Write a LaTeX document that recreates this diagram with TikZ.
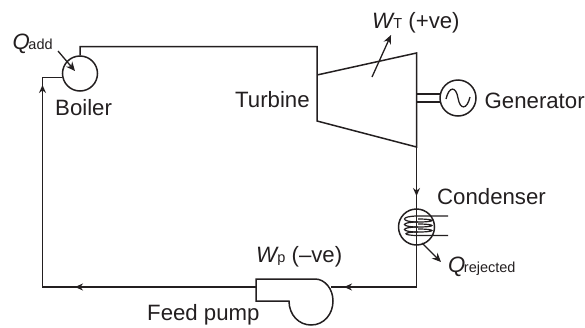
\documentclass[tikz,border=0pt]{standalone}
\usepackage{fontspec}
\setmainfont{Liberation Sans}
\usetikzlibrary{arrows.meta}
\definecolor{ink}{HTML}{231F20}
\tikzset{
  pipe/.style={draw=ink,line width=1.5pt,line join=miter},
  flow/.style={draw=ink,line width=1.5pt,-{Stealth[length=8pt,width=7pt]}},
  work/.style={draw=ink,line width=1.3pt,-{Stealth[length=9pt,width=8pt]}},
  unit/.style={circle,draw=ink,line width=1.5pt,inner sep=0pt},
  lab/.style={anchor=base west,inner sep=0pt,text=ink,font=\fontsize{22.2}{24}\selectfont},
}
\newcommand{\smallsub}[1]{\kern-1.5pt{\fontsize{14.5}{16}\selectfont #1}}
\begin{document}
\begin{tikzpicture}[x=1pt,y=-1pt]
\useasboundingbox (0,0) rectangle (585,327);
% units
\node[unit,minimum size=35pt] (boiler) at (80,73.5) {};
\node[unit,minimum size=36pt] (gen) at (458,98) {};
\node[unit,minimum size=36pt] (cond) at (416.5,227) {};
% reference points
\coordinate (tiTop) at (317,46.5);
\coordinate (tiLow) at (317,121);
\coordinate (ti) at (317,75);
\coordinate (teTop) at (416.5,53);
\coordinate (teLow) at (416.5,147);
\coordinate (boilTop) at (80,46.5);
\coordinate (boilIn) at (42.5,77.5);
\coordinate (leftLow) at (42.5,287);
\coordinate (condLow) at (416.5,287);
\coordinate (pumpIn) at (331,287);
\coordinate (pumpOut) at (256,287);
% turbine
\draw[pipe] (boiler.north) -- (boilTop) -- (tiTop) -- (tiLow) -- (teLow) -- (teTop) -- (ti);
% turbine to condenser
\draw[pipe] (teLow) -- (cond.north);
\coordinate (a1) at (416.5,196);
\draw[flow] (teLow) -- (a1);
% condenser to pump
\draw[pipe] (cond.south) -- (condLow) -- (pumpIn);
\coordinate (a2) at (344,287);
\draw[flow] (condLow) -- (a2);
% pump
\coordinate (p1) at (256,279);
\coordinate (p2) at (315,279);
\coordinate (p3) at (256,301);
\coordinate (p4) at (289,301);
\draw[pipe] (p2) -- (p1) -- (p3) -- (p4)
  .. controls (289,315) and (299,325) .. (311,325)
  .. controls (324,325) and (333,314) .. (333,301)
  .. controls (333,289) and (325,279) .. (p2);
% pump to boiler
\draw[pipe] (pumpOut) -- (leftLow) -- (boilIn) -- (boiler.west |- boilIn);
\coordinate (a3) at (75,287);
\coordinate (a4) at (42.5,85);
\draw[flow] (pumpOut) -- (a3);
\draw[flow] (leftLow) -- (a4);
% generator shaft and sine
\coordinate (s1) at (416,94);
\coordinate (s2) at (441,94);
\coordinate (s3) at (416,102);
\coordinate (s4) at (441,102);
\draw[pipe,line width=1.3pt] (s1) -- (s2) (s3) -- (s4);
\draw[pipe,line width=1.3pt] (446,99) .. controls (449,86) and (456,86) .. (458,98)
  .. controls (460,110) and (467,110) .. (470,97);
% condenser coil
\draw[pipe,line width=1pt] (cond.north) -- (cond.south);
\coordinate (c1) at (448,216);
\coordinate (c2) at (448,235.5);
\draw[pipe,line width=1.2pt] (c1) -- (418,216)
 .. controls (400,216) and (400,222) .. (418,222)
 .. controls (437,222) and (436,219) .. (418,219);
\draw[pipe,line width=1.2pt] (418,222)
 .. controls (400,222) and (400,227) .. (418,227)
 .. controls (437,227) and (436,224) .. (418,224);
\draw[pipe,line width=1.2pt] (418,227)
 .. controls (400,227) and (400,232) .. (418,232)
 .. controls (437,232) and (436,229) .. (418,229);
\draw[pipe,line width=1.2pt] (418,232)
 .. controls (402,232) and (402,235.5) .. (418,235.5) -- (c2);
% labels
\node[lab] (qadd) at (12.5,49) {\textit{Q}\smallsub{add}};
\node[lab] (boilerlab) at (55,115) {Boiler};
\node[lab] (turbine) at (235,107) {Turbine};
\node[lab] (wt) at (372,28) {\textit{W}\smallsub{T} (+ve)};
\node[lab] (generator) at (484.5,108) {Generator};
\node[lab] (condenser) at (437,204) {Condenser};
\node[lab] (qrej) at (448,272) {\textit{Q}\smallsub{rejected}};
\node[lab] (wp) at (256,262) {\textit{W}\smallsub{p} (–ve)};
\node[lab] (pump) at (147,320) {Feed pump};
% energy arrows
\coordinate (e1) at (58,51);
\coordinate (e2) at (75,71);
\coordinate (e3) at (372,77);
\coordinate (e4) at (391,35);
\coordinate (e5) at (422,243);
\coordinate (e6) at (441,262);
\draw[work] (e1) -- (e2);
\draw[work] (e3) -- (e4);
\draw[work] (e5) -- (e6);
\end{tikzpicture}
\end{document}
